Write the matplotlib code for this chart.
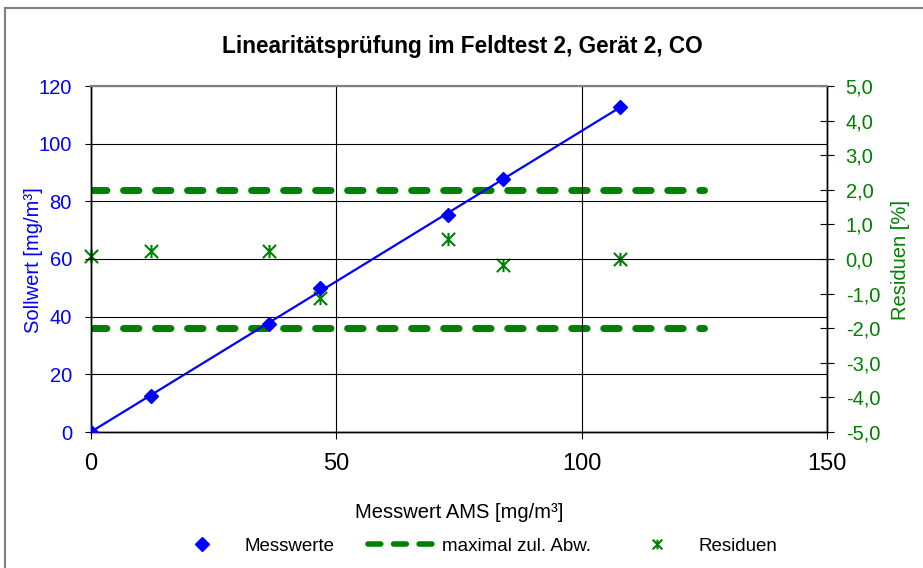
#!/usr/bin/env python3
"""Linearitaetspruefung Feldtest 2, Geraet 2, CO - Sollwert vs. Messwert mit Residuen."""

import numpy as np
import matplotlib
matplotlib.use('Agg')
import matplotlib.pyplot as plt
from matplotlib.lines import Line2D
from matplotlib.path import Path

plt.rcParams['font.family'] = ['Liberation Sans', 'DejaVu Sans']

# Messwerte (x = AMS, y = Sollwert) und Residuen
messwert = [0.0, 12.2, 36.2, 46.6, 72.8, 83.9, 107.8]
sollwert = [0.0, 12.5, 37.6, 50.0, 75.2, 87.7, 112.6]
residuen = [0.09, 0.24, 0.24, -1.14, 0.58, -0.16, 0.0]

# maximal zulaessige Abweichung (+/- 2 %)
grenze_x = [0, 125]
grenze_oben = [2.0, 2.0]
grenze_unten = [-2.0, -2.0]

x_ticks = [0, 50, 100, 150]
x_labels = ['0', '50', '100', '150']
y_ticks = [0, 20, 40, 60, 80, 100, 120]
y_labels = ['0', '20', '40', '60', '80', '100', '120']
r_ticks = [5, 4, 3, 2, 1, 0, -1, -2, -3, -4, -5]
r_labels = ['5,0', '4,0', '3,0', '2,0', '1,0', '0,0', '-1,0', '-2,0', '-3,0', '-4,0', '-5,0']

BLUE = '#0000FF'
GREEN = '#008000'

# Excel-Marker "x mit senkrechtem Strich"
stern = Path([(-1, -1), (1, 1), (-1, 1), (1, -1), (0, -1), (0, 1)],
             [Path.MOVETO, Path.LINETO, Path.MOVETO, Path.LINETO, Path.MOVETO, Path.LINETO])


def main():
    W, H = 923, 568
    fig = plt.figure(figsize=(W / 100, H / 100), dpi=100)
    ax = fig.add_axes([91 / W, 1 - 432 / H, (827 - 91) / W, (432 - 86) / H])
    ax2 = ax.twinx()
    ax.set_zorder(2)
    ax.patch.set_visible(False)

    # Regressionsgerade + Messwerte
    k, d = np.polyfit(messwert, sollwert, 1)
    xs = np.array([min(messwert), max(messwert)])
    ax.plot(xs, k * xs + d, color=BLUE, lw=1.6, zorder=3)
    ax.plot(messwert, sollwert, ls='none', marker='D', ms=7.5, color=BLUE, zorder=4)

    # Grenzen und Residuen auf rechter Achse
    dash_kw = dict(color=GREEN, lw=5, dashes=(2.22, 2.39), dash_capstyle='round')
    ax2.plot(grenze_x, grenze_oben, **dash_kw)
    ax2.plot(grenze_x, grenze_unten, **dash_kw)
    ax2.plot(messwert, residuen, ls='none', marker=stern, ms=9.5, mew=1.5,
             color=GREEN, clip_on=False)

    ax.set_xlim(0, 150)
    ax.set_ylim(0, 120)
    ax2.set_ylim(-5, 5)

    ax.set_xticks(x_ticks)
    ax.set_xticklabels(x_labels)
    ax.set_yticks(y_ticks)
    ax.set_yticklabels(y_labels)
    ax2.set_yticks(r_ticks)
    ax2.set_yticklabels(r_labels)

    ax.grid(True, color='black', lw=0.8)
    ax.set_axisbelow(True)

    ax.tick_params(axis='x', direction='out', length=5, width=0.8, pad=10,
                   labelsize=17, colors='black')
    ax.tick_params(axis='y', direction='out', length=4.5, width=0.8, pad=9.2,
                   labelsize=14.5, labelcolor=BLUE, color='black')
    ax2.tick_params(axis='y', direction='inout', length=9.5, width=0.8, pad=8.7,
                    labelsize=14.5, labelcolor=GREEN, color='black')

    for a in (ax, ax2):
        for s in a.spines.values():
            s.set_color('black')
            s.set_linewidth(1.0)
        a.spines['top'].set_color('#808080')
        a.spines['top'].set_linewidth(1.5)

    fig.text(462 / W, 1 - 53 / H, 'Linearitätsprüfung im Feldtest 2, Gerät 2, CO',
             ha='center', va='baseline', fontsize=16.3, fontweight='bold')
    fig.text(459 / W, 1 - 518 / H, 'Messwert AMS [mg/m³]', ha='center',
             va='baseline', fontsize=14.5)
    fig.text(34 / W, 1 - 260 / H, 'Sollwert [mg/m³]', rotation=90, ha='center',
             va='center', fontsize=14.5, color=BLUE)
    fig.text(901 / W, 1 - 260 / H, 'Residuen [%]', rotation=90, ha='center',
             va='center', fontsize=14.5, color=GREEN)

    handles = [
        Line2D([], [], ls='none', marker='D', ms=7, color=BLUE),
        Line2D([], [], color=GREEN, lw=4, dashes=(2.3, 2.3), dash_capstyle='round'),
        Line2D([], [], ls='none', marker=stern, ms=7, mew=1.5, color=GREEN),
    ]
    fig.legend(handles, ['Messwerte', 'maximal zul. Abw.', 'Residuen'],
               loc='center', bbox_to_anchor=(474 / W, 1 - 546 / H), ncol=3,
               frameon=False, fontsize=13.5, handlelength=3.41, handletextpad=0.53,
               columnspacing=1.81, borderpad=0, borderaxespad=0)

    # Rahmen des Diagrammbereichs (nur links/oben sichtbar)
    fig.add_artist(Line2D([4.5 / W, 4.5 / W], [0, 1 - 8 / H], color='#808080', lw=1.5))
    fig.add_artist(Line2D([4.5 / W, 1], [1 - 8 / H, 1 - 8 / H], color='#808080', lw=1.5))

    fig.savefig('out.png', dpi=100)
    plt.close(fig)
    print('Saved out.png')


if __name__ == '__main__':
    main()
